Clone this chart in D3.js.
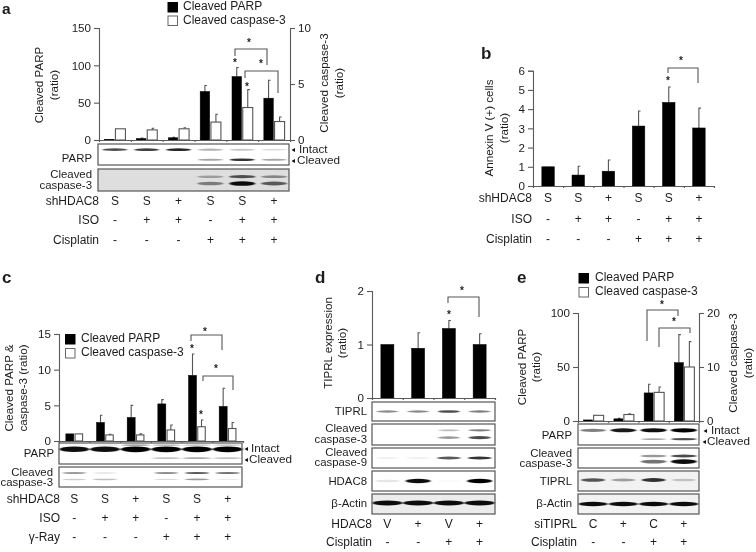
<!DOCTYPE html>
<html><head><meta charset="utf-8">
<script src="https://cdn.jsdelivr.net/npm/d3@7"></script>
<style>
html,body{margin:0;padding:0;background:#fff}
svg{display:block;filter:blur(0.4px)}
text{font-family:"Liberation Sans",Arial,sans-serif;fill:#1c1c1c}
</style></head><body>
<svg id="c" width="756" height="552" xmlns="http://www.w3.org/2000/svg"></svg>
<script>
// ---- data ----
const aParp=[1,2,3,65,85,56], aParpTop=[1,2.5,3.5,73,97,80];
const aCasp=[1,0.9,1,1.6,2.9,1.65], aCaspTop=[1,1.05,1.1,2.3,4.5,2.05];
const bAnnexin=[1,0.57,0.77,3.12,4.35,3.02], bAnnexinTop=[1,1.03,1.35,3.9,5.15,4.05];
const cParp=[1,2.6,3.3,5.2,9.2,4.85], cParpTop=[1,3.6,5,5.8,12.2,7.4];
const cCasp=[1,0.85,0.85,1.55,2,1.75], cCaspTop=[1,0.95,1,2.25,2.95,2.6];
const dTiprl=[1,0.93,1.3,1], dTiprlTop=[1,1.22,1.45,1.2];
const eParp=[1,2,26,54], eParpTop=[1,2.4,34,80];
const eCasp=[1.05,1.2,5.3,10], eCaspTop=[1.05,1.35,6.3,14.7];

const rowsA=[["shHDAC8",["S","S","+","S","S","+"]],["ISO",["-","+","+","-","+","+"]],["Cisplatin",["-","-","-","+","+","+"]]];
const rowsC=[["shHDAC8",["S","S","+","S","S","+"]],["ISO",["-","+","+","-","+","+"]],["γ-Ray",["-","-","-","+","+","+"]]];
const rowsD=[["HDAC8",["V","+","V","+"]],["Cisplatin",["-","-","+","+"]]];
const rowsE=[["siTIPRL",["C","+","C","+"]],["Cisplatin",["-","-","+","+"]]];

const seriesNames=["Cleaved PARP","Cleaved caspase-3"];
// blot band intensities per lane
const aBlotIntact=[.7,.75,.85,.3,.22,.14], aBlotCleaved=[0,0,0,.35,.8,.35];
const aCasHi=[0,0,0,.3,.65,.4], aCasLo=[0,0,0,.45,.95,.6];
const cBlotIntact=[.95,.95,1,1,1,1], cBlotCleaved=[0,0,0,.25,.35,.25];
const cCasHi=[.4,.12,0,.45,.65,.55], cCasLo=[.2,.25,0,.15,.4,.08];
const dT=[.45,.45,.7,.5], dC3Hi=[0,0,.25,.5], dC3Lo=[0,0,.4,.7], dC9=[.06,.06,.65,.8], dH8=[.1,.95,.02,1], dAct=[.95,.95,.95,.95];
const eIntact=[.5,.9,.95,1], eCleaved=[0,0,.35,.7], eCasHi=[0,0,.4,.7], eCasLo=[0,0,.55,.95], eTi=[.65,.35,.8,.2], eAct=[.95,.95,.95,.95];

// ---- helpers ----
const svg=d3.select("#c");
const defs=svg.append("defs");
defs.append("filter").attr("id","bl").attr("x","-20%").attr("y","-300%").attr("width","140%").attr("height","700%")
  .append("feGaussianBlur").attr("stdDeviation","1 0.7");
const AX="#5a5a5a", FS=12, FT=11.6, FB=11.4;

function txt(x,y,s,o={}){
  return svg.append("text").attr("x",x).attr("y",y).text(s)
    .attr("font-size",o.fs||FS).attr("font-weight",o.w||null)
    .attr("text-anchor",o.a||"start").attr("dominant-baseline","middle");
}
function vtxt(x,y,s){
  return svg.append("text").attr("transform",`translate(${x},${y}) rotate(-90)`).text(s)
    .attr("font-size",FT).attr("text-anchor","middle").attr("dominant-baseline","middle");
}
function lab(x,y,s){ return txt(x,y,s,{a:"end",fs:FB}); }
function star(x,y){ svg.append("text").attr("x",x).attr("y",y+4).text("*").attr("font-size",10).attr("font-weight","bold").attr("text-anchor","middle"); }
function bracket(x1,x2,y,l1,l2,sx,sy){
  svg.append("path").attr("fill","none").attr("stroke","#555").attr("stroke-width",1.1)
    .attr("d",d3.line()([[x1,l1],[x1,y],[x2,y],[x2,l2]]));
  star(sx,sy);
}
function leftAxis(y,x,vals){
  const g=svg.append("g").attr("transform",`translate(${x},0)`).call(d3.axisLeft(y).tickValues(vals).tickSize(5).tickPadding(3).tickFormat(d3.format("d")));
  style(g);
}
function rightAxis(y,x,vals){
  const g=svg.append("g").attr("transform",`translate(${x},0)`).call(d3.axisRight(y).tickValues(vals).tickSize(5).tickPadding(3).tickFormat(d3.format("d")));
  style(g);
}
function style(g){
  g.selectAll("path,line").attr("stroke",AX).attr("stroke-width",1.1);
  g.selectAll("text").attr("font-size",11.6).attr("fill","#1c1c1c");
}
function baseLine(x0,x1,y0,n){
  const s=d3.scaleLinear().domain([0,n]).range([x0,x1]);
  const g=svg.append("g").attr("transform",`translate(0,${y0})`)
    .call(d3.axisBottom(s).ticks(n).tickSize(2).tickFormat(""));
  g.selectAll("path,line").attr("stroke",AX).attr("stroke-width",1.1);
}
function bars(vals,tops,x,y,w,off,white){
  vals.forEach((v,i)=>{
    const cx=x(i)+off;
    if(tops[i]>v) svg.append("path").attr("stroke","#555").attr("stroke-width",1.1).attr("fill","none")
      .attr("d",d3.line()([[cx,y(v)],[cx,y(tops[i])],[cx+2,y(tops[i])]]));
    svg.append("rect").attr("x",cx-w/2).attr("y",y(v)).attr("width",w).attr("height",y(0)-y(v))
      .attr("fill",white?"#fff":"#000").attr("stroke",white?"#555":"#000").attr("stroke-width",white?1.1:0.5);
  });
}
function legend(x,tx,y1,y2){
  [[y1,"#000","#000"],[y2,"#fff","#666"]].forEach((r,i)=>{
    svg.append("rect").attr("x",x).attr("y",r[0]-4.5).attr("width",9.5).attr("height",9.5).attr("fill",r[1]).attr("stroke",r[2]);
    txt(tx,r[0],seriesNames[i],{fs:12});
  });
}
function rows(data,lx,ys,x){
  data.forEach((r,k)=>{
    txt(lx,ys[k],r[0],{a:"end"});
    r[1].forEach((s,i)=>txt(x(i),ys[k],s,{a:"middle"}));
  });
}
function box(x0,x1,y0,y1,bg,bands,x,lw){
  svg.append("rect").attr("x",x0).attr("y",y0).attr("width",x1-x0).attr("height",y1-y0).attr("fill",bg);
  const g=svg.append("g").attr("filter","url(#bl)");
  bands.forEach(b=>{
    b.v.forEach((v,i)=>{
      if(v<=0)return;
      g.append("ellipse").attr("cx",x(i)).attr("cy",y0+(y1-y0)*b.f)
        .attr("rx",lw).attr("ry",(b.t||1.3)*(0.7+0.6*v))
        .attr("fill","#000").attr("opacity",Math.min(1,v));
    });
  });
  svg.append("rect").attr("x",x0).attr("y",y0).attr("width",x1-x0).attr("height",y1-y0)
    .attr("fill","none").attr("stroke","#555").attr("stroke-width",1.2);
}
function arrow(x,y){ svg.append("path").attr("d",d3.line()([[x,y-2],[x,y+2],[x-3.5,y]])).attr("fill","#111"); }
const bandX=(x0,x1,n)=>{const s=d3.scaleBand().domain(d3.range(n)).range([x0,x1]);return i=>s(i)+s.bandwidth()/2;};

// ---- panel a ----
{
  const X0=99,X1=290,x=bandX(X0,X1,6);
  const y=d3.scaleLinear().domain([0,150]).range([140,28]);
  const y2=d3.scaleLinear().domain([0,10]).range([140,28]);
  txt(2,10,"a",{fs:15.5,w:"bold"});
  legend(168,183,7,20.5);
  bars(aParp,aParpTop,x,y,9.5,-5.5,false);
  bars(aCasp,aCaspTop,x,y2,10,5.5,true);
  leftAxis(y,X0,[0,50,100,150]); rightAxis(y2,X1,[0,5,10]); baseLine(X0,X1,140,6);
  vtxt(40,85,seriesNames[0]); vtxt(55,85,"(ratio)");
  vtxt(325,83,seriesNames[1]); vtxt(340,83,"(ratio)");
  bracket(235,267,49,56,65,249,42);
  bracket(245,278,71,78,93,261,63);
  star(235,62); star(247,86);
  box(98,289,144,165,"#fff",[{f:.27,v:aBlotIntact,t:1.2},{f:.75,v:aBlotCleaved,t:1.1}],x,12.5);
  box(98,289,169,191,"#dedede",[{f:.35,v:aCasHi,t:1.5},{f:.66,v:aCasLo,t:1.8}],x,13);
  lab(92,159,"PARP"); lab(92,175,"Cleaved"); lab(92,186,"caspase-3");
  arrow(295,150); txt(299,150,"Intact",{fs:11.7}); arrow(295,161); txt(297,161,"Cleaved",{fs:11.7});
  rows(rowsA,99,[202,221,241],x);
}
// ---- panel b ----
{
  const X0=533,X1=714,x=bandX(X0,X1,6);
  const y=d3.scaleLinear().domain([0,6]).range([186,70.7]);
  txt(481,55,"b",{fs:17,w:"bold"});
  bars(bAnnexin,bAnnexinTop,x,y,12.5,0,false);
  leftAxis(y,X0,[0,1,2,3,4,5,6]); baseLine(X0,X1,186,6);
  vtxt(490,128,"Annexin V (+) cells"); vtxt(505,128,"(ratio)");
  bracket(668,698,68,73,83,681,60); star(668,80);
  rows(rowsA,532,[199,220,240],x);
}
// ---- panel c ----
{
  const X0=59,X1=243,x=bandX(X0,X1,6);
  const y=d3.scaleLinear().domain([0,15]).range([441,334]);
  txt(2,279,"c",{fs:17,w:"bold"});
  bars(cParp,cParpTop,x,y,8,-4.5,false);
  bars(cCasp,cCaspTop,x,y,7.5,4.5,true);
  leftAxis(y,X0,[0,5,10,15]); baseLine(X0,X1,441,6);
  legend(65.5,81,339,353);
  vtxt(10,388,"Cleaved PARP &"); vtxt(24,388,"caspase-3 (ratio)");
  bracket(191,222,335,341,350,205,331);
  bracket(203,233,376,381,390,216,368);
  star(192,348); star(201,414);
  box(59,242,443,464,"#fff",[{f:.3,v:cBlotIntact,t:2.2},{f:.1,v:[.05,.1,.35,.25,.2,.2],t:1},{f:.72,v:cBlotCleaved,t:1}],x,15);
  box(59,242,467,487,"#fff",[{f:.3,v:cCasHi,t:1},{f:.62,v:cCasLo,t:.9}],x,12);
  lab(54,454,"PARP"); lab(53,473,"Cleaved"); lab(53,483,"caspase-3");
  arrow(248,449); txt(251,449,"Intact",{fs:11.7}); arrow(248,460); txt(249,460,"Cleaved",{fs:11.7});
  rows(rowsC,60,[500,519,538],x);
}
// ---- panel d ----
{
  const X0=372,X1=495,x=bandX(X0,X1,4);
  const y=d3.scaleLinear().domain([0,2]).range([398,291]);
  txt(315,279,"d",{fs:17,w:"bold"});
  bars(dTiprl,dTiprlTop,x,y,13,0,false);
  leftAxis(y,X0,[0,1,2]); baseLine(X0,X1,398,4);
  vtxt(329,343,"TIPRL expression"); vtxt(343,343,"(ratio)");
  bracket(448,479,297,303,317,462,290); star(449,314);
  box(372,495,402,421,"#fff",[{f:.5,v:dT,t:1.2}],x,11);
  box(372,495,424,445,"#fff",[{f:.3,v:dC3Hi,t:1.1},{f:.65,v:dC3Lo,t:1.4}],x,11);
  box(372,495,448,468,"#fff",[{f:.5,v:dC9,t:1.3}],x,12);
  box(372,495,471,491,"#fff",[{f:.5,v:dH8,t:1.7}],x,12.5);
  box(372,495,494,514,"#ececec",[{f:.45,v:dAct,t:1.9}],x,15);
  lab(367,412,"TIPRL"); lab(367,429,"Cleaved"); lab(367,440,"caspase-3");
  lab(367,453,"Cleaved"); lab(367,463,"caspase-9");
  lab(367,482,"HDAC8"); lab(367,504,"β-Actin");
  rows(rowsD,372,[525,543],x);
}
// ---- panel e ----
{
  const X0=578,X1=699,x=bandX(X0,X1,4);
  const y=d3.scaleLinear().domain([0,100]).range([421,313]);
  const y2=d3.scaleLinear().domain([0,20]).range([421,313]);
  txt(517,279,"e",{fs:17,w:"bold"});
  legend(579,595,278,292);
  bars(eParp,eParpTop,x,y,9,-5,false);
  bars(eCasp,eCaspTop,x,y2,10,5.5,true);
  leftAxis(y,X0,[0,50,100]); rightAxis(y2,X1,[0,10,20]); baseLine(X0,X1,421,4);
  vtxt(523,367,seriesNames[0]); vtxt(537,367,"(ratio)");
  vtxt(734,363,seriesNames[1]); vtxt(749,363,"(ratio)");
  bracket(647,678,310,341,316,662,304);
  bracket(659,690,328,347,333,674,321);
  box(578,699,424,445,"#fff",[{f:.3,v:eIntact,t:1.6},{f:.72,v:eCleaved,t:1}],x,13);
  box(578,699,448,468,"#fff",[{f:.4,v:eCasHi,t:1.4},{f:.68,v:eCasLo,t:1.9}],x,13);
  box(578,699,471,491,"#f2f2f2",[{f:.45,v:eTi,t:1.6}],x,12);
  box(578,699,494,514,"#f2f2f2",[{f:.5,v:eAct,t:1.7}],x,14.5);
  lab(572,436,"PARP"); lab(572,454,"Cleaved"); lab(572,464,"caspase-3");
  lab(572,482,"TIPRL"); lab(572,504,"β-Actin");
  arrow(707,431); txt(711,431,"Intact",{fs:11.7}); arrow(706,442); txt(707,442,"Cleaved",{fs:11.7});
  rows(rowsE,577,[525,543],x);
}
</script>
</body></html>
